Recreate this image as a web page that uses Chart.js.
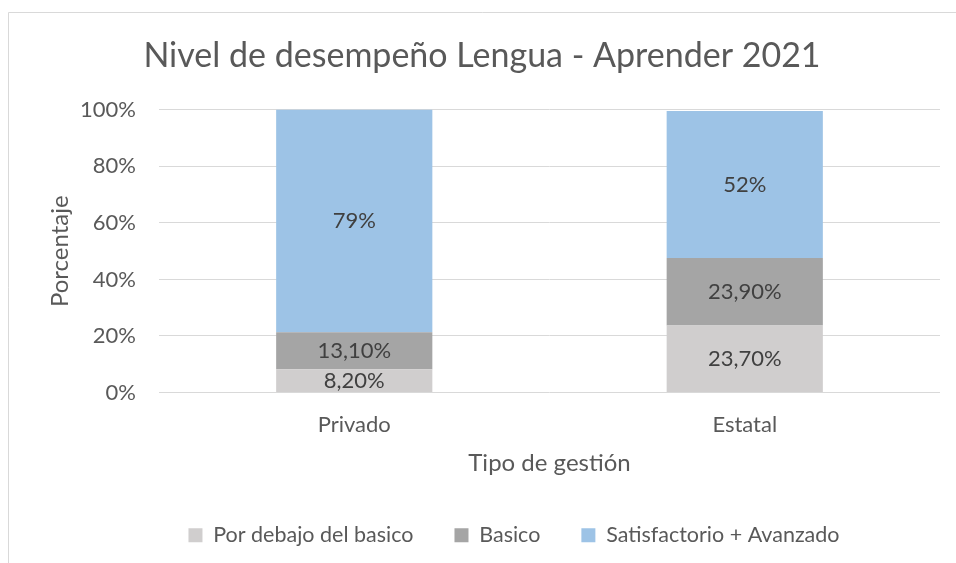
<!DOCTYPE html>
<html>
<head>
<meta charset="utf-8">
<script src="https://cdn.jsdelivr.net/npm/chart.js@4.4.1/dist/chart.umd.min.js"></script>
<style>
  html, body { margin: 0; padding: 0; background: #fff; overflow: hidden; }
  #wrap { position: absolute; left: 0; top: 0; width: 956px; height: 563px; }
</style>
</head>
<body>
<div id="wrap"><canvas id="grafico"></canvas></div>
<script>
// datos
var categorias = ['Privado', 'Estatal'];
var porDebajo = [8.2, 23.7];
var basico = [13.1, 23.9];
var satisfactorio = [79, 52];
var etiquetasPorDebajo = ['8,20%', '23,70%'];
var etiquetasBasico = ['13,10%', '23,90%'];
var etiquetasSatisfactorio = ['79%', '52%'];
var ticksY = [0, 20, 40, 60, 80, 100];

var fuente = 'Lato, "Open Sans", sans-serif';
var gris = '#595959';

// marco del grafico (borde gris claro)
const marco = {
  id: 'marco',
  beforeDraw(chart) {
    const ctx = chart.ctx;
    ctx.save();
    ctx.fillStyle = '#fff';
    ctx.fillRect(0, 0, chart.width, chart.height);
    ctx.strokeStyle = '#d9d9d9';
    ctx.lineWidth = 1;
    ctx.beginPath();
    ctx.moveTo(8.5, chart.height);
    ctx.lineTo(8.5, 12.5);
    ctx.lineTo(chart.width, 12.5);
    ctx.stroke();
    ctx.restore();
  }
};

// etiquetas de valor en el centro de cada tramo
const etiquetas = {
  id: 'etiquetas',
  afterDatasetsDraw(chart) {
    const ctx = chart.ctx;
    ctx.save();
    ctx.font = '22px ' + fuente;
    ctx.fillStyle = '#404040';
    ctx.textAlign = 'center';
    ctx.textBaseline = 'middle';
    chart.data.datasets.forEach(function (ds, i) {
      const meta = chart.getDatasetMeta(i);
      meta.data.forEach(function (bar, j) {
        const p = bar.getProps(['x', 'y', 'base'], true);
        const top = Math.max(p.y, chart.chartArea.top);
        ctx.fillText(ds.etiquetas[j], p.x, (top + p.base) / 2);
      });
    });
    ctx.restore();
  }
};

// corre la leyenda un poco a la derecha como en el original
const leyendaCorrida = {
  id: 'leyendaCorrida',
  afterLayout(chart) {
    chart.legend.left += 32;
    chart.legend.right += 32;
  }
};

const data = {
  labels: categorias,
  datasets: [
    { label: 'Por debajo del basico', data: porDebajo, etiquetas: etiquetasPorDebajo, backgroundColor: '#d0cece' },
    { label: 'Basico', data: basico, etiquetas: etiquetasBasico, backgroundColor: '#a5a5a5' },
    { label: 'Satisfactorio + Avanzado', data: satisfactorio, etiquetas: etiquetasSatisfactorio, backgroundColor: '#9dc3e6' }
  ]
};

const config = {
  type: 'bar',
  data,
  options: {
    responsive: true,
    maintainAspectRatio: false,
    animation: false,
    layout: { padding: { left: 24, right: 16, top: 0, bottom: 7 } },
    datasets: { bar: { barPercentage: 0.4, categoryPercentage: 1 } },
    plugins: {
      title: {
        display: true,
        text: 'Nivel de desempeño Lengua - Aprender 2021',
        color: gris,
        font: { family: fuente, size: 34, weight: 'normal' },
        padding: { top: 36, bottom: 33 }
      },
      legend: {
        position: 'bottom',
        labels: {
          color: gris,
          font: { family: fuente, size: 21.5 },
          boxWidth: 14,
          boxHeight: 14,
          padding: 41
        }
      },
      tooltip: { enabled: false }
    },
    scales: {
      x: {
        stacked: true,
        grid: { display: false },
        border: { display: false },
        ticks: { color: gris, font: { family: fuente, size: 22 }, padding: 11 },
        title: {
          display: true,
          text: 'Tipo de gestión',
          color: gris,
          font: { family: fuente, size: 24 },
          padding: { top: 0, bottom: 6 }
        },
        afterFit: function (scale) { scale.height = 91; }
      },
      y: {
        stacked: true,
        min: 0,
        max: 100,
        afterBuildTicks: function (scale) {
          scale.ticks = ticksY.map(function (v) { return { value: v }; });
        },
        grid: { color: '#d9d9d9', lineWidth: 1, drawTicks: false },
        border: { display: false },
        ticks: {
          color: gris,
          font: { family: fuente, size: 22 },
          padding: 23,
          callback: function (v) { return v + '%'; }
        },
        title: {
          display: true,
          text: 'Porcentaje',
          color: gris,
          font: { family: fuente, size: 24 },
          padding: { top: 22, bottom: 0 }
        },
        afterFit: function (scale) { scale.width = 135; }
      }
    }
  },
  plugins: [marco, etiquetas, leyendaCorrida]
};

const myChart = new Chart(document.getElementById('grafico'), config);
</script>
</body>
</html>
